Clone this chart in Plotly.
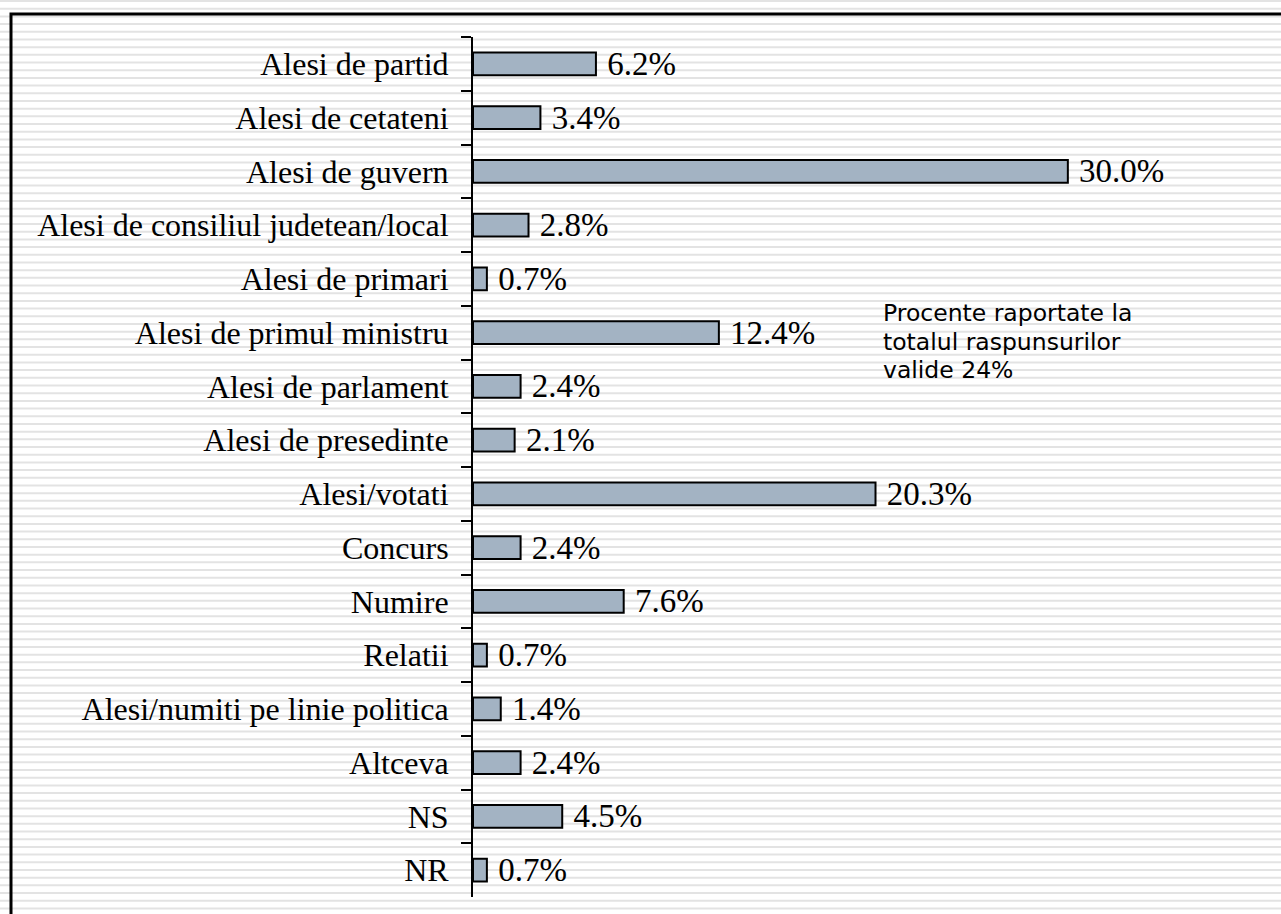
import plotly.graph_objects as go

categories = ['Alesi de partid', 'Alesi de cetateni', 'Alesi de guvern',
              'Alesi de consiliul judetean/local', 'Alesi de primari',
              'Alesi de primul ministru', 'Alesi de parlament', 'Alesi de presedinte',
              'Alesi/votati', 'Concurs', 'Numire', 'Relatii',
              'Alesi/numiti pe linie politica', 'Altceva', 'NS', 'NR']
values = [6.2, 3.4, 30.0, 2.8, 0.7, 12.4, 2.4, 2.1, 20.3, 2.4, 7.6, 0.7, 1.4, 2.4, 4.5, 0.7]
note_lines = ['Procente raportate la', 'totalul raspunsurilor', 'valide 24%']

W, H = 1281, 914
serif = 'Liberation Serif, Times New Roman, serif'

fig = go.Figure()
fig.add_trace(go.Bar(
    x=values, y=categories, orientation='h',
    marker=dict(color='#a3b3c3', line=dict(color='black', width=2)),
    text=[' %.1f%%' % v for v in values], textposition='outside',
    textfont=dict(family=serif, size=33, color='black'),
    constraintext='none', cliponaxis=False, hoverinfo='skip',
))

# striped background
shapes = []
y = 1.0
while y < H:
    shapes.append(dict(type='line', xref='paper', yref='paper', layer='below',
                       x0=0, x1=1, y0=1 - y / H, y1=1 - y / H,
                       line=dict(color='#e3e3e3', width=2)))
    y += 7.69
# frame (left + top only, rest runs off the picture)
shapes.append(dict(type='path', xref='paper', yref='paper', layer='below',
                   path='M %f,%f L %f,%f L %f,%f' % (11 / W, -0.05, 11 / W, 1 - 14 / H, 1.05, 1 - 14 / H),
                   line=dict(color='black', width=3)))

# note text, one annotation per line to control the spacing
annotations = []
for i, line in enumerate(note_lines):
    annotations.append(dict(xref='paper', yref='paper', x=881 / W, y=1 - (313.5 + 28 * i) / H,
                            xanchor='left', yanchor='middle', align='left', showarrow=False,
                            text=line, font=dict(family='DejaVu Sans, Verdana, sans-serif',
                                                 size=23.5, color='black')))

fig.update_layout(
    width=W, height=H,
    margin=dict(l=0, r=0, t=0, b=0),
    paper_bgcolor='white', plot_bgcolor='rgba(0,0,0,0)',
    showlegend=False, bargap=0.58,
    shapes=shapes,
    xaxis=dict(domain=[473 / W, 0.911], range=[0, 35], visible=False, showgrid=False),
    yaxis=dict(domain=[1 - 897 / H, 1 - 37 / H], autorange='reversed',
               showline=True, linecolor='black', linewidth=2,
               ticks='outside', tickson='boundaries', ticklen=10, tickwidth=2, tickcolor='black',
               ticklabelstandoff=16, showgrid=False,
               tickfont=dict(family=serif, size=32, color='black')),
    annotations=annotations,
)

fig.write_html('out.html', config={'displayModeBar': False},
               post_script="document.body.style.margin='0';")
